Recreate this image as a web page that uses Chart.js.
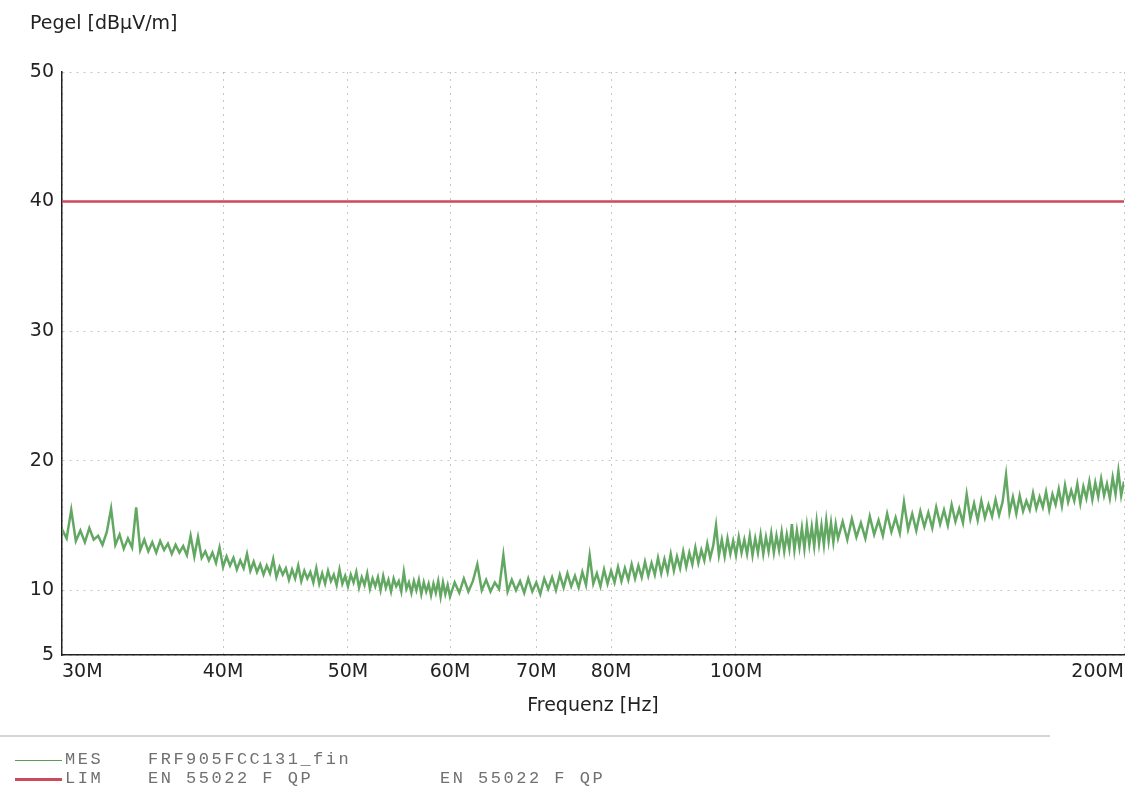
<!DOCTYPE html>
<html>
<head>
<meta charset="utf-8">
<script src="https://cdn.jsdelivr.net/npm/chart.js@4.4.1/dist/chart.umd.min.js"></script>
<style>
  html, body { margin: 0; padding: 0; background: #fff; }
  #wrap { position: relative; width: 1130px; height: 794px; }
  #sep { position: absolute; left: 0; top: 735px; width: 1050px; height: 0; border-top: 2px solid #d6d6d6; }
  .leg { position: absolute; left: 0; height: 20px; font-family: "Liberation Mono", "DejaVu Sans Mono", monospace; font-size: 17px; letter-spacing: 2.5px; color: #707070; white-space: pre; }
  .leg .ln { position: absolute; left: 15px; width: 47px; }
  .leg span.t { position: absolute; top: 0; }
</style>
</head>
<body>
<div id="wrap">
  <canvas id="emiChart" width="1130" height="794"></canvas>
  <div id="sep"></div>
  <div class="leg" style="top:750px">
    <div class="ln" style="top:10px;border-top:1px solid #5a9a5a"></div>
    <span class="t" style="left:65px">MES</span>
    <span class="t" style="left:148px">FRF905FCC131_fin</span>
  </div>
  <div class="leg" style="top:769px">
    <div class="ln" style="top:9px;border-top:3px solid #cc4a5c"></div>
    <span class="t" style="left:65px">LIM</span>
    <span class="t" style="left:148px">EN 55022 F QP</span>
    <span class="t" style="left:440px">EN 55022 F QP</span>
  </div>
</div>
<script>
// ================= Data (frequency in MHz, level in dBµV/m) =================
const mesFreq = [
  30, 30.25, 30.5, 30.75, 31, 31.25, 31.5, 31.75, 32, 32.25, 32.5, 32.75, 33, 33.25, 33.5, 33.75,
  34, 34.25, 34.5, 34.75, 35, 35.25, 35.5, 35.75, 36, 36.25, 36.5, 36.75, 37, 37.25, 37.5, 37.75,
  38, 38.25, 38.5, 38.75, 39, 39.25, 39.5, 39.75, 40, 40.25, 40.5, 40.75, 41, 41.25, 41.5, 41.75,
  42, 42.25, 42.5, 42.75, 43, 43.25, 43.5, 43.75, 44, 44.25, 44.5, 44.75, 45, 45.25, 45.5, 45.75,
  46, 46.25, 46.5, 46.75, 47, 47.25, 47.5, 47.75, 48, 48.25, 48.5, 48.75, 49, 49.25, 49.5, 49.75,
  50, 50.25, 50.5, 50.75, 51, 51.25, 51.5, 51.75, 52, 52.25, 52.5, 52.75, 53, 53.25, 53.5, 53.75,
  54, 54.25, 54.5, 54.75, 55, 55.25, 55.5, 55.75, 56, 56.25, 56.5, 56.75, 57, 57.25, 57.5, 57.75,
  58, 58.25, 58.5, 58.75, 59, 59.25, 59.5, 59.75, 60,
  60.5, 61, 61.5, 62, 62.5, 63, 63.5, 64, 64.5, 65, 65.5, 66, 66.5, 67, 67.5, 68, 68.5, 69, 69.5, 70,
  70.5, 71, 71.5, 72, 72.5, 73, 73.5, 74, 74.5, 75, 75.5, 76, 76.5, 77, 77.5, 78, 78.5, 79, 79.5, 80,
  80.5, 81, 81.5, 82, 82.5, 83, 83.5, 84, 84.5, 85, 85.5, 86, 86.5, 87, 87.5, 88, 88.5, 89, 89.5, 90,
  90.5, 91, 91.5, 92, 92.5, 93, 93.5, 94, 94.5, 95, 95.5, 96, 96.5, 97, 97.5, 98, 98.5, 99, 99.5, 100,
  100.5, 101, 101.5, 102, 102.5, 103, 103.5, 104, 104.5, 105, 105.5, 106, 106.5, 107, 107.5, 108, 108.5, 109, 109.5, 110,
  110.5, 111, 111.5, 112, 112.5, 113, 113.5, 114, 114.5, 115, 115.5, 116, 116.5, 117, 117.5, 118, 118.5, 119, 119.5, 120,
  121, 122, 123, 124, 125, 126, 127, 128, 129, 130, 131, 132, 133, 134, 135, 136, 137, 138, 139, 140,
  141, 142, 143, 144, 145, 146, 147, 148, 149, 150, 151, 152, 153, 154, 155, 156, 157, 158, 159, 160,
  161, 162, 163, 164, 165, 166, 167, 168, 169, 170, 171, 172, 173, 174, 175, 176, 177, 178, 179, 180,
  181, 182, 183, 184, 185, 186, 187, 188, 189, 190, 191, 192, 193, 194, 195, 196, 197, 198, 199, 200
];
const mesValues = [
  14.7, 14.0, 16.2, 13.8, 14.6, 13.7, 14.8, 13.9, 14.2, 13.5, 14.5, 16.3, 13.5, 14.3, 13.2, 14.0,
  13.3, 16.4, 13.1, 13.9, 13.0, 13.7, 12.9, 13.8, 13.1, 13.6, 12.8, 13.5, 12.9, 13.4, 12.7, 14.2,
  12.6, 14.1, 12.5, 13.0, 12.3, 12.9, 12.1, 13.3, 11.8, 12.6, 11.9, 12.5, 11.6, 12.3, 11.7, 12.8,
  11.5, 12.2, 11.4, 12.0, 11.2, 11.9, 11.3, 12.4, 11.0, 11.8, 11.2, 11.7, 10.8, 11.6, 10.9, 11.9,
  10.7, 11.5, 10.9, 11.4, 10.6, 11.7, 10.5, 11.3, 10.5, 11.5, 10.7, 11.2, 10.4, 11.6, 10.5, 11.1,
  10.3, 11.2, 10.6, 11.4, 10.2, 11.0, 10.4, 11.3, 10.1, 10.9, 10.3, 11.0, 10.0, 11.1, 10.2, 10.8,
  9.9, 10.9, 10.3, 10.7, 9.9, 11.4, 10.1, 10.6, 9.8, 10.7, 10.0, 10.8, 9.7, 10.6, 9.9, 10.5,
  9.6, 10.5, 9.8, 10.7, 9.5, 10.6, 9.7, 10.4, 9.5,
  10.6, 9.8, 10.9, 9.9, 10.7, 12.0, 10.0, 10.8, 9.9, 10.6, 10.1, 12.7, 9.9, 10.8, 10.0, 10.7, 9.8, 10.9, 9.9, 10.6,
  9.7, 10.9, 10.1, 11.0, 10.0, 11.2, 10.2, 11.3, 10.3, 11.1, 10.2, 11.4, 10.4, 12.7, 10.5, 11.3, 10.3, 11.6, 10.5, 11.5,
  10.6, 11.8, 10.7, 11.7, 10.8, 12.0, 10.9, 11.9, 11.0, 12.2, 11.1, 12.1, 11.2, 12.5, 11.3, 12.4, 11.4, 12.8, 11.5, 12.6,
  11.7, 13.0, 11.8, 12.9, 12.0, 13.3, 12.1, 13.1, 12.3, 13.6, 12.5, 13.4, 15.0, 12.7, 13.9, 12.6, 14.0, 12.8, 13.8, 12.7,
  14.1, 12.9, 13.9, 12.8, 14.2, 12.7, 14.0, 12.9, 14.3, 12.8, 14.1, 13.0, 14.4, 12.9, 14.2, 13.1, 14.5, 13.0, 14.3, 13.2,
  15.1, 13.1, 14.6, 13.3, 14.8, 13.2, 15.0, 13.5, 14.9, 13.4, 15.3, 13.6, 15.0, 13.5, 15.4, 13.8, 15.2, 13.7, 15.1, 14.0,
  15.3, 13.9, 15.5, 14.1, 15.2, 14.0, 15.7, 14.3, 15.4, 14.2, 15.9, 14.5, 15.6, 14.4, 16.8, 14.7, 15.9, 14.6, 16.1, 14.9,
  16.0, 14.8, 16.4, 15.1, 16.2, 15.0, 16.6, 15.3, 16.3, 15.2, 17.4, 15.5, 16.7, 15.4, 16.9, 15.6, 16.6, 15.7, 17.0, 15.8,
  16.8, 18.9, 16.0, 17.2, 15.9, 17.3, 16.1, 16.9, 16.2, 17.5, 16.3, 17.2, 16.4, 17.6, 16.2, 17.4, 16.6, 17.8, 16.5, 18.1,
  16.8, 17.7, 16.9, 18.2, 16.7, 18.0, 17.1, 18.4, 17.0, 18.3, 17.2, 18.6, 17.3, 18.2, 17.1, 18.7, 17.4, 19.2, 17.3, 18.4
];
const limFreq = [30, 200];
const limValues = [40, 40];

const xTicks = [30, 40, 50, 60, 70, 80, 100, 200];
const yTicks = [5, 10, 20, 30, 40, 50];

const FONT = "'DejaVu Sans', Arial, sans-serif";

// y axis title sits above the plot, top left
const yTitlePlugin = {
    id: "yTitle",
    afterDraw(chart) {
        const ctx = chart.ctx;
        ctx.save();
        ctx.font = "19px " + FONT;
        ctx.fillStyle = "#222";
        ctx.textBaseline = "alphabetic";
        ctx.fillText("Pegel [dBμV/m]", 30, 29);
        ctx.restore();
    }
};

new Chart(document.getElementById("emiChart"), {
    type: "line",
    data: {
        datasets: [
            {
                label: "MES FRF905FCC131_fin",
                data: mesFreq.map((f, i) => ({ x: f, y: mesValues[i] })),
                borderColor: "rgb(98,168,98)",
                borderWidth: 2.5,
                pointRadius: 0,
                tension: 0
            },
            {
                label: "LIM EN 55022 F QP",
                data: limFreq.map((f, i) => ({ x: f, y: limValues[i] })),
                borderColor: "rgb(205,72,88)",
                borderWidth: 2.5,
                pointRadius: 0,
                tension: 0
            }
        ]
    },
    options: {
        responsive: false,
        animation: false,
        layout: { padding: { top: 72, right: 5, bottom: 69, left: 0 } },
        plugins: {
            legend: { display: false },
            tooltip: { enabled: false }
        },
        scales: {
            x: {
                type: "logarithmic",
                min: 30,
                max: 200,
                afterBuildTicks: s => { s.ticks = xTicks.map(v => ({ value: v })); },
                afterFit: s => { s.height = 70; },
                ticks: {
                    align: "inner",
                    maxRotation: 0,
                    autoSkip: false,
                    padding: 6,
                    color: "#222",
                    font: { family: FONT, size: 19 },
                    callback: v => v + "M"
                },
                grid: { color: "rgba(0,0,0,0.22)", drawTicks: false },
                border: { display: true, color: "#222", width: 1.5, dash: [2, 5] },
                title: {
                    display: true,
                    text: "Frequenz [Hz]",
                    color: "#222",
                    font: { family: FONT, size: 19 },
                    padding: { top: 0, bottom: 8 }
                }
            },
            y: {
                type: "linear",
                min: 5,
                max: 50,
                afterBuildTicks: s => { s.ticks = yTicks.map(v => ({ value: v })); },
                afterFit: s => { s.width = 62; },
                ticks: {
                    padding: 8,
                    color: "#222",
                    font: { family: FONT, size: 19 }
                },
                grid: { color: "rgba(0,0,0,0.22)", drawTicks: false },
                border: { display: true, color: "#222", width: 1.5, dash: [2, 5] }
            }
        }
    },
    plugins: [yTitlePlugin]
});
</script>
</body>
</html>
